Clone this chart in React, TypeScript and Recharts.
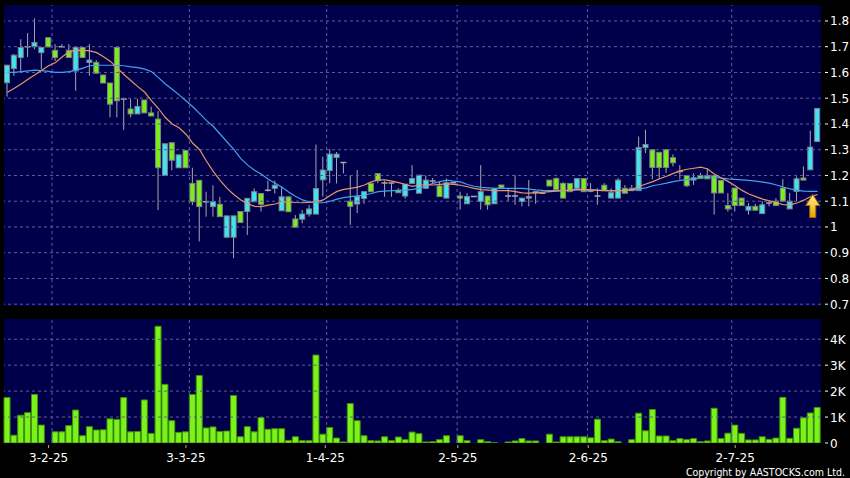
import React from "react";
import { ComposedChart, Bar, Line, XAxis, YAxis, ReferenceLine, ReferenceDot } from "recharts";

// daily OHLC (oldest first)
const opens = [
  1.56, 1.615, 1.658, 1.7, 1.7, 1.677, 1.735, 1.686, 1.7, 1.686,
  1.606, 1.697, 1.639, 1.639, 1.59, 1.559, 1.697, 1.497, 1.458, 1.439,
  1.493, 1.443, 1.419, 1.2, 1.327, 1.23, 1.297, 1.169, 1.181, 1.098,
  1.079, 1.088, 0.96, 0.96, 1.06, 1.06, 1.098, 1.13, 1.143, 1.15,
  1.063, 1.117, 1.031, 1.03, 1.05, 1.05, 1.183, 1.219, 1.27, 1.25,
  1.1, 1.089, 1.111, 1.169, 1.207, 1.171, 1.171, 1.143, 1.12, 1.169,
  1.131, 1.15, 1.178, 1.159, 1.112, 1.172, 1.12, 1.09, 1.118, 1.099,
  1.12, 1.09, 1.163, 1.12, 1.12, 1.099, 1.112, 1.138, 1.131, 1.182,
  1.188, 1.169, 1.169, 1.15, 1.188, 1.14, 1.12, 1.162, 1.112, 1.112,
  1.15, 1.15, 1.141, 1.308, 1.3, 1.29, 1.3, 1.269, 1.215, 1.2,
  1.182, 1.2, 1.2, 1.2, 1.181, 1.083, 1.151, 1.112, 1.065, 1.08,
  1.052, 1.093, 1.1, 1.151, 1.07, 1.138, 1.19, 1.222, 1.332,
];
const highs = [
  1.63, 1.672, 1.729, 1.753, 1.81, 1.7, 1.735, 1.71, 1.71, 1.71,
  1.7, 1.7, 1.71, 1.648, 1.59, 1.559, 1.697, 1.497, 1.497, 1.497,
  1.493, 1.467, 1.45, 1.323, 1.327, 1.28, 1.297, 1.23, 1.181, 1.137,
  1.162, 1.117, 1.043, 1.043, 1.06, 1.111, 1.15, 1.13, 1.18, 1.18,
  1.156, 1.117, 1.046, 1.066, 1.085, 1.32, 1.273, 1.302, 1.291, 1.25,
  1.202, 1.221, 1.137, 1.169, 1.207, 1.18, 1.171, 1.15, 1.166, 1.24,
  1.201, 1.2, 1.19, 1.176, 1.188, 1.172, 1.137, 1.131, 1.118, 1.24,
  1.12, 1.15, 1.163, 1.15, 1.201, 1.112, 1.182, 1.14, 1.131, 1.182,
  1.192, 1.175, 1.169, 1.19, 1.188, 1.17, 1.15, 1.17, 1.15, 1.19,
  1.163, 1.163, 1.351, 1.377, 1.3, 1.29, 1.3, 1.282, 1.24, 1.2,
  1.208, 1.21, 1.228, 1.2, 1.181, 1.132, 1.151, 1.112, 1.093, 1.09,
  1.1, 1.1, 1.112, 1.186, 1.132, 1.196, 1.235, 1.374, 1.46,
];
const lows = [
  1.506, 1.587, 1.606, 1.66, 1.69, 1.613, 1.699, 1.645, 1.7, 1.658,
  1.529, 1.658, 1.587, 1.597, 1.559, 1.426, 1.426, 1.377, 1.426, 1.439,
  1.443, 1.431, 1.066, 1.2, 1.22, 1.23, 1.23, 1.085, 0.944, 1.04,
  1.04, 1.04, 0.96, 0.879, 1.017, 0.969, 1.098, 1.06, 1.137, 1.13,
  1.063, 1.059, 0.999, 1.014, 1.04, 1.05, 1.118, 1.17, 1.169, 1.208,
  1.008, 1.054, 1.09, 1.137, 1.17, 1.117, 1.117, 1.133, 1.11, 1.169,
  1.131, 1.15, 1.17, 1.118, 1.112, 1.172, 1.067, 1.09, 1.118, 1.067,
  1.067, 1.09, 1.152, 1.099, 1.086, 1.08, 1.08, 1.09, 1.131, 1.159,
  1.145, 1.112, 1.137, 1.15, 1.137, 1.135, 1.086, 1.141, 1.112, 1.112,
  1.131, 1.141, 1.141, 1.287, 1.185, 1.188, 1.21, 1.235, 1.185, 1.155,
  1.163, 1.186, 1.187, 1.048, 1.132, 1.06, 1.06, 1.083, 1.048, 1.065,
  1.052, 1.08, 1.083, 1.1, 1.07, 1.1, 1.182, 1.222, 1.332,
];
const closes = [
  1.628, 1.667, 1.697, 1.7, 1.716, 1.697, 1.699, 1.658, 1.7, 1.658,
  1.697, 1.658, 1.648, 1.597, 1.559, 1.477, 1.49, 1.497, 1.439, 1.468,
  1.443, 1.431, 1.23, 1.323, 1.259, 1.28, 1.23, 1.098, 1.079, 1.098,
  1.098, 1.04, 1.043, 1.043, 1.017, 1.111, 1.137, 1.088, 1.143, 1.162,
  1.117, 1.059, 0.999, 1.05, 1.07, 1.149, 1.221, 1.283, 1.283, 1.25,
  1.08, 1.118, 1.137, 1.137, 1.18, 1.171, 1.171, 1.133, 1.166, 1.188,
  1.201, 1.182, 1.178, 1.118, 1.172, 1.172, 1.112, 1.118, 1.118, 1.137,
  1.086, 1.15, 1.152, 1.12, 1.12, 1.112, 1.118, 1.131, 1.131, 1.159,
  1.145, 1.112, 1.137, 1.188, 1.137, 1.14, 1.12, 1.141, 1.133, 1.182,
  1.131, 1.141, 1.308, 1.32, 1.231, 1.231, 1.231, 1.249, 1.215, 1.16,
  1.191, 1.188, 1.187, 1.132, 1.132, 1.07, 1.083, 1.083, 1.08, 1.065,
  1.086, 1.093, 1.083, 1.1, 1.1, 1.187, 1.182, 1.31, 1.46,
];
const volumes = [
  1750, 300, 1070, 1170, 1870, 690, 0, 430, 430, 670,
  1270, 280, 630, 500, 510, 930, 910, 1750, 430, 440,
  1660, 370, 4500, 2260, 860, 410, 430, 1870, 2600, 580,
  620, 440, 460, 1830, 240, 630, 430, 980, 530, 550,
  550, 100, 240, 90, 90, 3390, 340, 600, 190, 40,
  1520, 860, 280, 90, 80, 240, 90, 230, 130, 420,
  360, 40, 50, 130, 280, 0, 280, 90, 0, 130,
  50, 10, 0, 40, 80, 170, 80, 80, 0, 340,
  40, 240, 240, 240, 240, 200, 920, 90, 150, 50,
  0, 130, 1150, 470, 1290, 270, 270, 90, 170, 130,
  170, 50, 80, 1340, 170, 380, 690, 370, 120, 120,
  240, 140, 190, 1760, 180, 570, 970, 1160, 1370,
];
// moving averages as drawn (orange short, blue long)
const maShort = [
  1.523, 1.539, 1.555, 1.574, 1.591, 1.609, 1.626, 1.639, 1.661, 1.681,
  1.686, 1.686, 1.684, 1.677, 1.661, 1.643, 1.617, 1.591, 1.568, 1.545,
  1.523, 1.49, 1.46, 1.425, 1.4, 1.385, 1.36, 1.325, 1.3, 1.255,
  1.215, 1.18, 1.15, 1.125, 1.105, 1.09, 1.08, 1.079, 1.085, 1.089,
  1.097, 1.097, 1.095, 1.094, 1.096, 1.098, 1.105, 1.122, 1.138, 1.146,
  1.15, 1.155, 1.163, 1.175, 1.183, 1.183, 1.178, 1.172, 1.165, 1.158,
  1.163, 1.163, 1.163, 1.165, 1.167, 1.165, 1.162, 1.156, 1.15, 1.145,
  1.143, 1.141, 1.141, 1.141, 1.137, 1.132, 1.131, 1.133, 1.135, 1.137,
  1.139, 1.141, 1.143, 1.146, 1.145, 1.144, 1.142, 1.141, 1.14, 1.141,
  1.142, 1.144, 1.157, 1.167, 1.176, 1.187, 1.197, 1.208, 1.218, 1.224,
  1.228, 1.232, 1.225, 1.205, 1.19, 1.176, 1.16, 1.142, 1.128, 1.118,
  1.108, 1.101, 1.094, 1.087, 1.086, 1.093, 1.104, 1.118, 1.126,
];
const maLong = [
  1.6, 1.6, 1.603, 1.606, 1.609, 1.607, 1.604, 1.6, 1.6, 1.603,
  1.609, 1.617, 1.626, 1.628, 1.628, 1.628, 1.627, 1.626, 1.622, 1.619,
  1.613, 1.603, 1.58, 1.555, 1.535, 1.513, 1.49, 1.467, 1.44, 1.413,
  1.39, 1.36, 1.33, 1.3, 1.265, 1.24, 1.22, 1.205, 1.185, 1.17,
  1.154, 1.135, 1.118, 1.105, 1.097, 1.094, 1.094, 1.1, 1.108, 1.114,
  1.118, 1.121, 1.124, 1.13, 1.137, 1.139, 1.141, 1.141, 1.143, 1.146,
  1.15, 1.16, 1.169, 1.176, 1.182, 1.178, 1.175, 1.165, 1.158, 1.154,
  1.152, 1.15, 1.15, 1.15, 1.15, 1.15, 1.147, 1.144, 1.142, 1.141,
  1.141, 1.141, 1.142, 1.144, 1.144, 1.144, 1.143, 1.142, 1.141, 1.141,
  1.141, 1.143, 1.148, 1.152, 1.16, 1.165, 1.17, 1.176, 1.181, 1.184,
  1.186, 1.192, 1.195, 1.193, 1.19, 1.187, 1.185, 1.183, 1.181, 1.178,
  1.174, 1.17, 1.163, 1.155, 1.148, 1.142, 1.139, 1.138, 1.138,
];

// month boundaries (grid) and where their labels sit, in bar units
const monthLines = [6.5, 26.5, 46.5, 65.5, 84.5, 105.5];
const labelPos = [6, 26, 46.3, 65.6, 84.6, 106];
const dateLabels = ["3-2-25", "3-3-25", "1-4-25", "2-5-25", "2-6-25", "2-7-25"];
const priceTicks = [0.7, 0.8, 0.9, 1.0, 1.1, 1.2, 1.3, 1.4, 1.5, 1.6, 1.7, 1.8];
const volumeTicks = [0, 1000, 2000, 3000, 4000];

const data = closes.map((c, i) => ({
  i,
  open: opens[i],
  high: highs[i],
  low: lows[i],
  close: c,
  vol: volumes[i],
  maShort: maShort[i],
  maLong: maLong[i],
}));
const last = data.length - 1;

const BG = "#00004a";
const GRID = "#5e5e9c";
const UP = "#3ee4f0";
const DOWN = "#7aee1a";
const FONT = "DejaVu Sans";

function Candle(props: any) {
  const { x, y, width, height, payload } = props;
  if (!payload) return null;
  const { open, close, high, low } = payload;
  const span = high - low;
  const toY = (v: number) => (span > 0 ? y + ((high - v) / span) * height : y);
  const cx = x + width / 2;
  const top = toY(Math.max(open, close));
  const bot = toY(Math.min(open, close));
  return (
    <g>
      <line x1={cx} x2={cx} y1={y} y2={y + height} stroke="#a8a8b0" strokeWidth={1} />
      {open === close ? (
        <line x1={x} x2={x + width} y1={top} y2={top} stroke="#a8a8b0" strokeWidth={1.5} />
      ) : (
        <rect
          x={x + 0.5}
          y={top}
          width={width - 1}
          height={Math.max(bot - top, 1)}
          fill={close > open ? UP : DOWN}
          stroke="#80808a"
          strokeWidth={1}
        />
      )}
    </g>
  );
}

function RightTick(props: any) {
  const { x, y, payload, fmt } = props;
  return (
    <g>
      <line x1={x + 4} x2={x + 7} y1={y} y2={y} stroke="#ffffff" />
      <text x={x + 9} y={y} dy={4.5} fill="#ffffff" fontSize={12} fontFamily={FONT}>
        {fmt(payload.value)}
      </text>
    </g>
  );
}

function DateTick(props: any) {
  const { x, y, payload } = props;
  const k = labelPos.indexOf(payload.value);
  return (
    <g>
      <line x1={x} x2={x} y1={y + 2} y2={y + 5} stroke="#b0b0b0" />
      <text x={x} y={y + 19} textAnchor="middle" fill="#ffffff" fontSize={12} fontFamily={FONT}>
        {dateLabels[k]}
      </text>
    </g>
  );
}

function Arrow(props: any) {
  const { cx, cy } = props;
  const d = `M${cx} ${cy} L${cx + 7} ${cy + 11} L${cx + 3} ${cy + 11} L${cx + 3} ${cy + 23} L${cx - 3} ${cy + 23} L${cx - 3} ${cy + 11} L${cx - 7} ${cy + 11} Z`;
  return (
    <g>
      <defs>
        <linearGradient id="arrowFill" x1="0" y1="0" x2="0" y2="1">
          <stop offset="0%" stopColor="#fff08a" />
          <stop offset="100%" stopColor="#e8a400" />
        </linearGradient>
      </defs>
      <path d={d} fill="url(#arrowFill)" stroke="#a86a00" strokeWidth={1} />
    </g>
  );
}

const gridLine = { stroke: GRID, strokeDasharray: "3 3", strokeWidth: 1 };

export default function App() {
  return (
    <div style={{ position: "absolute", left: 0, top: 0, width: 850, height: 478, background: "#000" }}>
      {/* volume panel (under the price panel so the 0.7 label can overhang) */}
      <div style={{ position: "absolute", left: 0, top: 310 }}>
        <ComposedChart width={850} height={168} data={data} margin={{ top: 9, right: 0, bottom: 0, left: 4 }}>
          <rect x={4} y={9} width={817} height={124} fill={BG} />
          <XAxis
            dataKey="i"
            type="number"
            domain={[-0.5, last + 0.5]}
            ticks={labelPos}
            height={35}
            axisLine={false}
            tickLine={false}
            tickSize={0}
            tickMargin={0}
            interval={0}
            tick={<DateTick />}
          />
          <YAxis
            orientation="right"
            width={29}
            domain={[0, 4780]}
            ticks={volumeTicks}
            interval={0}
            axisLine={false}
            tickLine={false}
            tickSize={0}
            tickMargin={0}
            allowDataOverflow
            tick={<RightTick fmt={(v: number) => (v === 0 ? "0" : `${v / 1000}K`)} />}
          />
          {volumeTicks.slice(1).map((t) => (
            <ReferenceLine key={`v${t}`} y={t} {...gridLine} />
          ))}
          {monthLines.map((t) => (
            <ReferenceLine key={`vm${t}`} x={t} {...gridLine} />
          ))}
          <Bar dataKey="vol" barSize={6} fill="#7cf21c" stroke="#3f9400" strokeWidth={1} isAnimationActive={false} />
        </ComposedChart>
      </div>

      {/* price panel */}
      <div style={{ position: "absolute", left: 0, top: 0 }}>
        <ComposedChart width={850} height={316} data={data} margin={{ top: 5, right: 0, bottom: 10, left: 4 }}>
          <rect x={4} y={5} width={817} height={301} fill={BG} />
          <XAxis dataKey="i" type="number" domain={[-0.5, last + 0.5]} hide />
          <YAxis
            orientation="right"
            width={29}
            domain={[0.693, 1.862]}
            ticks={priceTicks}
            interval={0}
            axisLine={false}
            tickLine={false}
            tickSize={0}
            tickMargin={0}
            allowDataOverflow
            tick={<RightTick fmt={(v: number) => String(Number(v.toFixed(1)))} />}
          />
          {priceTicks.map((t) => (
            <ReferenceLine key={`p${t}`} y={t} {...gridLine} />
          ))}
          {monthLines.map((t) => (
            <ReferenceLine key={`m${t}`} x={t} {...gridLine} />
          ))}
          <Bar
            dataKey={(d: any) => [d.low, d.high]}
            barSize={6}
            shape={<Candle />}
            isAnimationActive={false}
          />
          <Line dataKey="maLong" stroke="#3fa2ee" strokeWidth={1.2} dot={false} isAnimationActive={false} />
          <Line dataKey="maShort" stroke="#e89468" strokeWidth={1.2} dot={false} isAnimationActive={false} />
          <ReferenceDot x={last - 0.7} y={maShort[last]} r={0} shape={<Arrow />} />
        </ComposedChart>
      </div>

      <div
        style={{
          position: "absolute",
          right: 5,
          top: 465,
          color: "#fff",
          fontSize: 10.5,
          fontFamily: "'DejaVu Sans Condensed', 'DejaVu Sans'",
          fontStretch: "condensed",
          lineHeight: "14px",
          whiteSpace: "nowrap",
        }}
      >
        Copyright by AASTOCKS.com Ltd.
      </div>
    </div>
  );
}
